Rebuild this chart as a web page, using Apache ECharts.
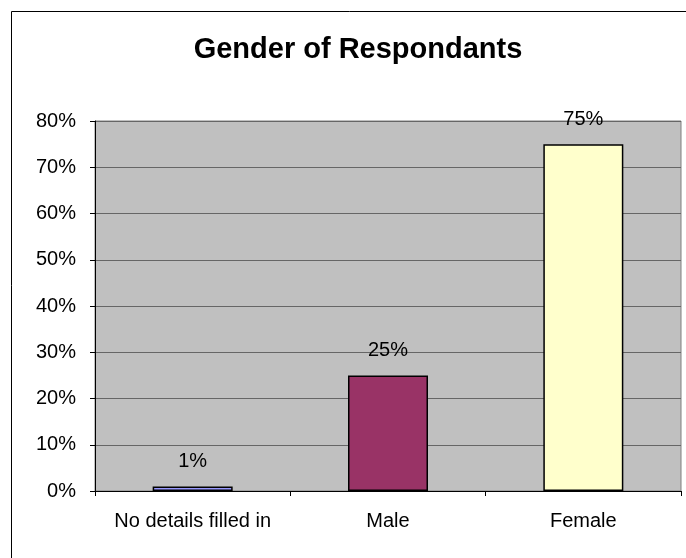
<!DOCTYPE html>
<html>
<head>
<meta charset="utf-8">
<title>Gender of Respondants</title>
<script src="https://cdn.jsdelivr.net/npm/echarts@6/dist/echarts.min.js"></script>
<style>
  html, body { margin: 0; padding: 0; background: #ffffff; }
  #chart { width: 686px; height: 558px; }
</style>
</head>
<body>
<div id="chart"></div>
<script>
// Survey answers: share of respondents by gender (percent)
var categories = ['No details filled in', 'Male', 'Female'];
var shares = [1, 25, 75];
var barColors = ['#9999FF', '#993366', '#FFFFCC'];
var yTicks = [0, 10, 20, 30, 40, 50, 60, 70, 80];

var chart = echarts.init(document.getElementById('chart'), null, { renderer: 'canvas' });

var font = '"Liberation Sans", Arial, sans-serif';

chart.setOption({
  animation: false,
  backgroundColor: '#ffffff',
  title: {
    text: 'Gender of Respondants',
    left: 353,
    top: 30,
    textAlign: 'center',
    textStyle: { fontFamily: font, fontSize: 29, fontWeight: 'bold', color: '#000000' }
  },
  graphic: [{
    type: 'rect',
    shape: { x: 11.5, y: 11.5, width: 720, height: 600 },
    style: { fill: 'none', stroke: '#000000', lineWidth: 1 },
    silent: true,
    z: -1
  }],
  grid: {
    left: 95, right: 5, top: 121, bottom: 67,
    show: true,
    backgroundColor: '#C0C0C0',
    borderColor: '#808080',
    borderWidth: 1
  },
  xAxis: {
    type: 'category',
    data: categories,
    axisLine: { lineStyle: { color: '#000000', width: 1 } },
    axisTick: { show: true, length: 5, lineStyle: { color: '#000000' } },
    axisLabel: {
      fontFamily: font, fontSize: 20, color: '#000000', margin: 20,
      interval: 0, hideOverlap: false
    }
  },
  yAxis: {
    type: 'value',
    min: yTicks[0],
    max: yTicks[yTicks.length - 1],
    interval: 10,
    axisLine: { show: true, lineStyle: { color: '#000000', width: 1 } },
    axisTick: { show: true, length: 5, lineStyle: { color: '#000000' } },
    axisLabel: {
      fontFamily: font, fontSize: 20, color: '#000000', margin: 19,
      formatter: function (v) { return v + '%'; }
    },
    splitLine: { show: true, lineStyle: { color: '#666666', width: 1 } }
  },
  series: [{
    type: 'bar',
    barWidth: 80,
    data: shares.map(function (v, i) {
      return {
        value: v,
        itemStyle: { color: barColors[i], borderColor: '#000000', borderWidth: 1.5 }
      };
    }),
    label: {
      show: true,
      position: 'top',
      distance: 15,
      fontFamily: font,
      fontSize: 20,
      color: '#000000',
      formatter: function (p) { return p.value + '%'; }
    }
  }]
});
</script>
</body>
</html>
